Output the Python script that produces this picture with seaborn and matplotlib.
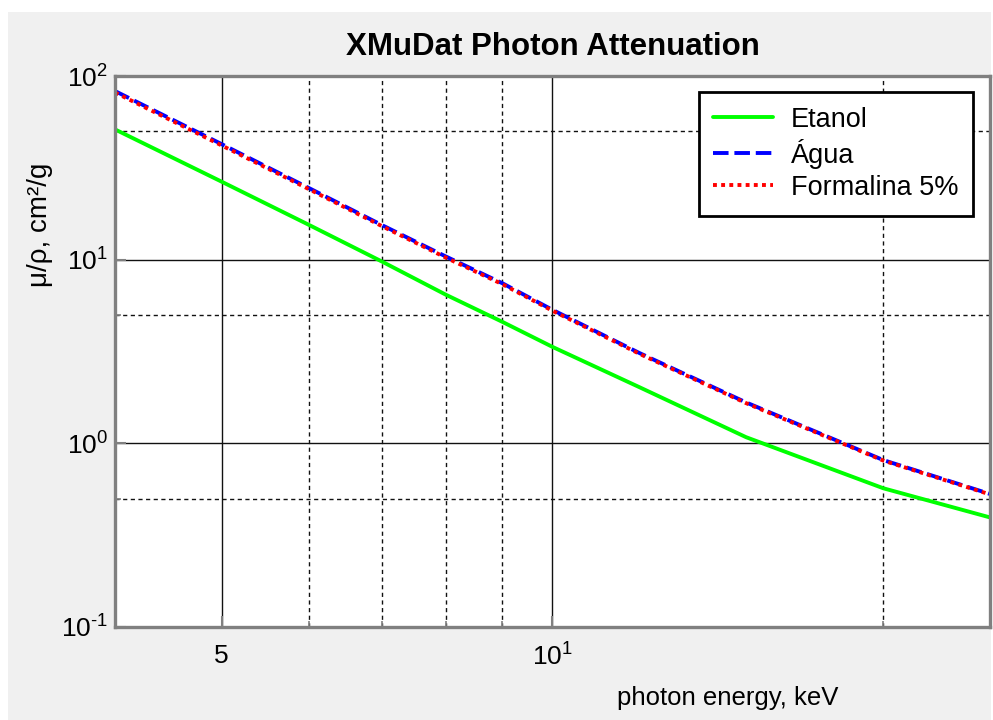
import matplotlib
matplotlib.use("Agg")
import matplotlib.pyplot as plt
from matplotlib.patches import Rectangle
from matplotlib.lines import Line2D
from matplotlib.ticker import FixedLocator, NullFormatter, FixedFormatter
import seaborn as sns
import pandas as pd

# Data (photon energy in keV, mass attenuation in cm^2/g)
energy = [4, 5, 6, 7, 8, 9, 10, 12, 15, 20, 25]
etanol = [51.2, 26.6, 15.5, 9.75, 6.44, 4.59, 3.35, 2.02, 1.08, 0.569, 0.395]
agua = [82.8, 42.6, 24.6, 15.4, 10.4, 7.45, 5.33, 3.1, 1.67, 0.81, 0.53]
formalina = [81.3, 41.9, 24.25, 15.2, 10.25, 7.36, 5.27, 3.07, 1.655, 0.805, 0.527]
series_names = ["Etanol", "Água", "Formalina 5%"]
x_tick_labels = ["5", r"$\mathdefault{10^{1}}$"]
y_tick_labels = [r"$\mathdefault{10^{\text{-}1}}$", r"$\mathdefault{10^{0}}$",
                 r"$\mathdefault{10^{1}}$", r"$\mathdefault{10^{2}}$"]

sns.set_theme(style="white")
plt.rcParams['font.family'] = ['Liberation Sans', 'DejaVu Sans']
plt.rcParams['mathtext.fontset'] = 'custom'
plt.rcParams['mathtext.rm'] = 'Liberation Sans'
plt.rcParams['axes.unicode_minus'] = False
plt.rcParams['text.color'] = 'black'
plt.rcParams['axes.labelcolor'] = 'black'

df = pd.DataFrame({
    "energy": energy * 3,
    "value": etanol + agua + formalina,
    "series": [series_names[0]] * len(energy) + [series_names[1]] * len(energy) + [series_names[2]] * len(energy),
})

W, H = 993, 720
fig = plt.figure(figsize=(W / 100, H / 100), dpi=100)
fig.patch.set_facecolor("white")
fig.patches.append(Rectangle((8 / W, 0), 1 - 8 / W - 2 / W, 1 - 12 / H, transform=fig.transFigure,
                             facecolor="#f0f0f0", edgecolor="none", zorder=-10))

L, R, T, B = 115, 990, 76, 627
ax = fig.add_axes([L / W, 1 - B / H, (R - L) / W, (B - T) / H])
ax.set_facecolor("white")

LW = 2.8
DASH = (4.0, 1.5)
DOT = (1.0, 1.1)
palette = {"Etanol": "#00ff00", "Água": "#0000ff", "Formalina 5%": "#ff0000"}
sns.lineplot(data=df, x="energy", y="value", hue="series", palette=palette, ax=ax,
             linewidth=LW, legend=False, sort=False)
lines = ax.get_lines()
lines[0].set_linestyle("-")
lines[1].set_dashes(DASH)
lines[2].set_dashes(DOT)

ax.set_xscale("log")
ax.set_yscale("log")
ax.set_xlim(4, 25)
ax.set_ylim(0.1, 100)

ax.xaxis.set_major_locator(FixedLocator([5, 10]))
ax.xaxis.set_major_formatter(FixedFormatter(x_tick_labels))
ax.xaxis.set_minor_locator(FixedLocator([6, 7, 8, 9, 20]))
ax.xaxis.set_minor_formatter(NullFormatter())
ax.yaxis.set_major_locator(FixedLocator([0.1, 1, 10, 100]))
ax.yaxis.set_major_formatter(FixedFormatter(y_tick_labels))
ax.yaxis.set_minor_locator(FixedLocator([0.5, 5, 50]))
ax.yaxis.set_minor_formatter(NullFormatter())

ax.grid(True, which="major", color="#111111", linestyle="-", linewidth=1.0)
ax.grid(True, which="minor", color="#111111", linestyle=(0, (3, 2.5)), linewidth=1.0)
ax.set_axisbelow(True)

for sp in ax.spines.values():
    sp.set_visible(True)
    sp.set_color("#808080")
    sp.set_linewidth(2.4)

ax.tick_params(which="both", direction="in", colors="#808080", labelcolor="black",
               labelsize=19, top=False, right=False, left=True, bottom=True)
ax.tick_params(which="major", length=8, width=1.5)
ax.tick_params(which="minor", length=4, width=1.2)
ax.tick_params(axis="x", pad=12)
ax.tick_params(axis="y", pad=5)

ax.set_title("XMuDat Photon Attenuation", fontsize=22.5, fontweight="bold", pad=15, color="black")
ax.set_xlabel("photon energy, keV", fontsize=18.5)
ax.xaxis.set_label_coords((728 - L) / (R - L), -(686 - B) / (B - T))
ax.set_ylabel("μ/ρ, cm²/g", fontsize=20)
ax.yaxis.set_label_coords(-(115 - 53) / (R - L), (B - 225) / (B - T))

handles = [Line2D([], [], color="#00ff00", linewidth=LW),
           Line2D([], [], color="#0000ff", linewidth=LW, dashes=DASH),
           Line2D([], [], color="#ff0000", linewidth=LW, dashes=DOT)]
leg = ax.legend(handles, series_names, loc="upper right",
                bbox_to_anchor=((973 - L) / (R - L), (B - 92) / (B - T)),
                borderaxespad=0, fontsize=19.5, frameon=True, fancybox=False,
                handlelength=2.2, handletextpad=0.65, labelspacing=0.22,
                borderpad=0.55)
leg.get_frame().set_edgecolor("black")
leg.get_frame().set_linewidth(2.0)
leg.get_frame().set_facecolor("white")
leg.get_frame().set_alpha(1)
for t in leg.get_texts():
    t.set_color("black")

fig.savefig("out.png", dpi=100, facecolor=fig.get_facecolor())
